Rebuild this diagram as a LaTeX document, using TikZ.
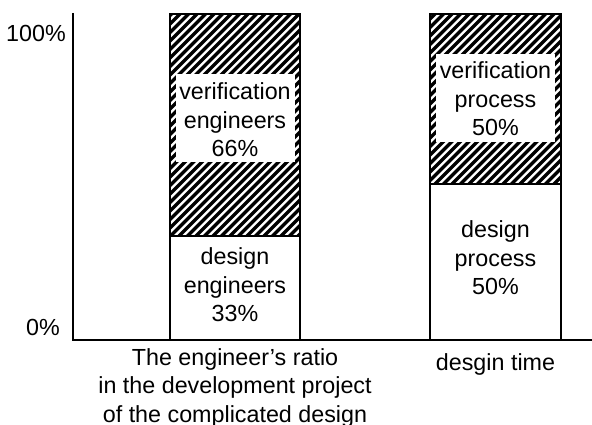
\documentclass[tikz,border=0pt]{standalone}
\usepackage{fontspec}
\setmainfont{Liberation Sans}
\usetikzlibrary{positioning}

\tikzset{
  frame/.style={line width=2pt,line join=miter},
  hatchline/.style={line width=3.5pt},
  txt/.style={align=center,inner sep=0pt,font=\fontsize{23.3}{28.5}\selectfont},
  whitebox/.style={fill=white,draw=none}
}

\begin{document}
\begin{tikzpicture}[x=1pt,y=-1pt]
  \useasboundingbox (0,0) rectangle (592,425);
  % hatched parts of the two bars
  \begin{scope}
    \clip (170,14) rectangle (300,236) (430,14) rectangle (561,184);
    \foreach \c in {160,168.5,...,760}
      \draw[hatchline] (\c-300,300) -- (\c,0);
  \end{scope}
  % white label boxes
  \fill[whitebox] (176,74) rectangle (295,162);
  \fill[whitebox] (436,54) rectangle (555,142);
  % bar frames
  \draw[frame] (170,14) rectangle (300,340);
  \draw[frame] (170,236) -- (300,236);
  \draw[frame] (430,14) rectangle (561,340);
  \draw[frame] (430,184) -- (561,184);
  % axes
  \coordinate (yTop) at (73,13);
  \coordinate (orig) at (73,340);
  \coordinate (xEnd) at (592,340);
  \draw[frame] (yTop) -- (orig) -- (xEnd);
  \node[txt,anchor=east] (pHundred) at (66,33) {100\%};
  \node[txt,anchor=east] (pZero) at (60,327) {0\%};
  % texts in bars
  \node[txt] (verEng) at (235,120) {verification\\engineers\\66\%};
  \node[txt] (desEng) at (235,285) {design\\engineers\\33\%};
  \node[txt] (verProc) at (495.5,99) {verification\\process\\50\%};
  \node[txt] (desProc) at (495.5,258) {design\\process\\50\%};
  % category labels
  \node[txt,anchor=north] (ratioLbl) at (235,348) {The engineer's ratio\\in the development project\\of the complicated design};
  \node[txt,anchor=north] (timeLbl) at (495.5,353) {desgin time};
\end{tikzpicture}
\end{document}
